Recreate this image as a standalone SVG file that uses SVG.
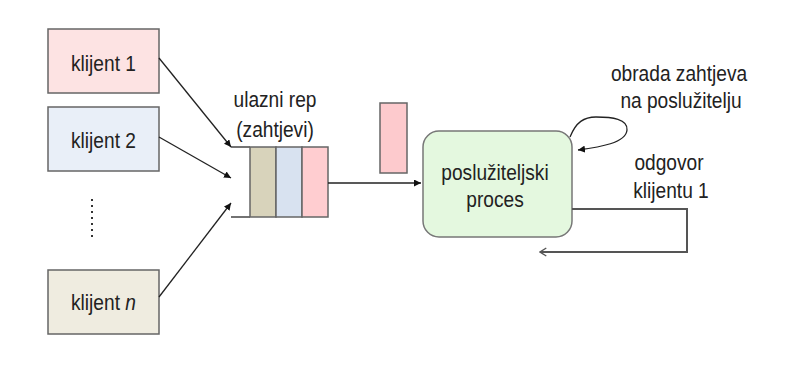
<svg xmlns="http://www.w3.org/2000/svg" width="786" height="370" viewBox="0 0 786 370">
<style>
text{font-family:"Liberation Sans",Arial,sans-serif;font-size:21.5px;fill:#222;text-anchor:middle;transform-box:fill-box;transform-origin:center;transform:scaleX(0.89)}
.box{stroke:#666;stroke-width:1.5}
.con{fill:none;stroke:#222;stroke-width:1.3}
.ret{fill:none;stroke:#555;stroke-width:2}
</style>
<defs>
<marker id="tri" viewBox="0 0 10 10" refX="10" refY="5" markerWidth="7" markerHeight="7" markerUnits="userSpaceOnUse" orient="auto"><path d="M0,0 L10,5 L0,10 z" fill="#111"/></marker>
<marker id="chev" viewBox="0 0 10 10" refX="9" refY="5" markerWidth="9" markerHeight="12" markerUnits="userSpaceOnUse" orient="auto"><path d="M2,0.5 L9,5 L2,9.5" fill="none" stroke="#555" stroke-width="1.5"/></marker>
</defs>
<rect width="786" height="370" fill="#fff"/>

<g id="klijent1"><rect class="box" x="48" y="29" width="111" height="64" fill="#fde3e3"/><text x="103.5" y="71">klijent 1</text></g>
<g id="klijent2"><rect class="box" x="48" y="107" width="111" height="64" fill="#e9eff8"/><text x="103.5" y="148">klijent 2</text></g>
<g id="dots"><line x1="92" y1="199" x2="92" y2="240" stroke="#333" stroke-width="2" stroke-dasharray="2 4"/></g>
<g id="klijentn"><rect class="box" x="48" y="270" width="111" height="64" fill="#efece0"/><text x="103.5" y="310">klijent <tspan font-style="italic">n</tspan></text></g>

<g id="rep">
<line x1="231" y1="147" x2="250" y2="147" stroke="#444" stroke-width="1.5"/>
<line x1="231" y1="217" x2="250" y2="217" stroke="#444" stroke-width="1.5"/>
<rect class="box" x="250" y="147" width="26" height="70" fill="#d8d3bb"/>
<rect class="box" x="276" y="147" width="26" height="70" fill="#d8e2f0"/>
<rect class="box" x="302" y="147" width="26" height="70" fill="#ffcdd0"/>
<text x="275" y="107">ulazni rep</text>
<text x="275" y="137">(zahtjevi)</text>
</g>

<g id="zahtjev"><rect class="box" x="380" y="103" width="27" height="70" fill="#fdcacd"/></g>

<g id="proces">
<rect x="423" y="131" width="149" height="106" rx="16" fill="#e4f8df" stroke="#777" stroke-width="1.5"/>
<text x="495" y="180">poslužiteljski</text>
<text x="495" y="207">proces</text>
</g>

<g id="labels">
<text x="679" y="81">obrada zahtjeva</text>
<text x="681" y="108">na poslužitelju</text>
<text x="669" y="170">odgovor</text>
<text x="671" y="198">klijentu 1</text>
</g>

<g id="connectors">
<line class="con" x1="159" y1="58" x2="231" y2="147" marker-end="url(#tri)"/>
<line class="con" x1="159" y1="137" x2="231" y2="178" marker-end="url(#tri)"/>
<line class="con" x1="159" y1="297" x2="231" y2="203" marker-end="url(#tri)"/>
<line class="con" x1="328" y1="183" x2="421" y2="183" marker-end="url(#tri)"/>
<path class="con" d="M570,137 C576,122 584,117 596,117 C612,117 628,119 627,130 C626,143 600,147 578,150" marker-end="url(#tri)"/>
<path class="ret" d="M572,209 H687 V252 H540" marker-end="url(#chev)"/>
</g>
</svg>
